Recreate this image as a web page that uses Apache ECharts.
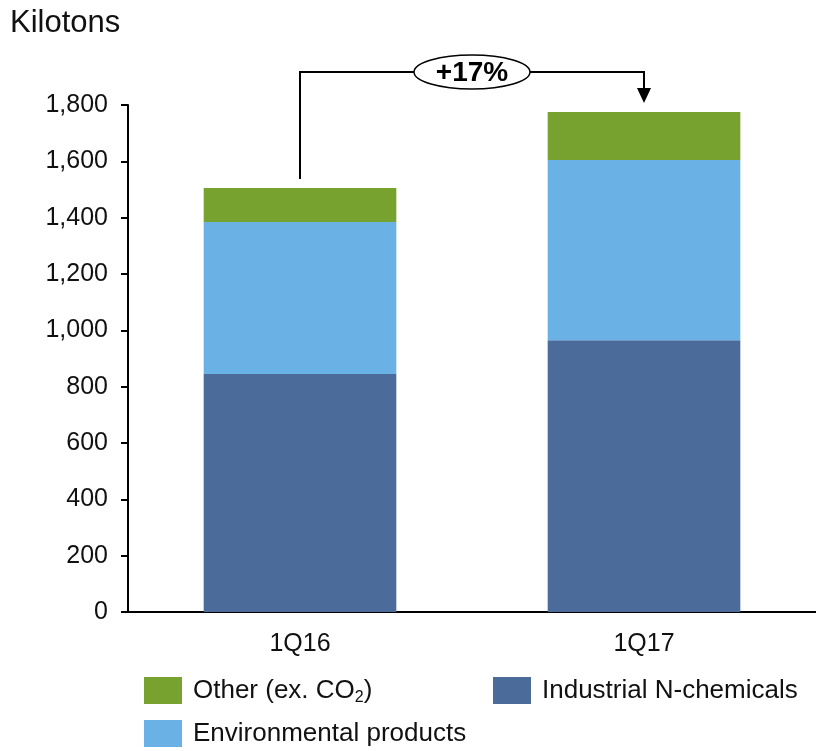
<!DOCTYPE html>
<html>
<head>
<meta charset="utf-8">
<title>Kilotons</title>
<script src="https://cdn.jsdelivr.net/npm/echarts@6/dist/echarts.min.js"></script>
<style>
  html, body { margin: 0; padding: 0; background: #fff; }
  #chart { width: 816px; height: 751px; }
</style>
</head>
<body>
<div id="chart"></div>
<script>
const categories = ['1Q16', '1Q17']
const industrial = [845, 965]
const environmental = [540, 640]
const other = [120, 170]
const yTicks = [0, 200, 400, 600, 800, 1000, 1200, 1400, 1600, 1800]
const growthLabel = '+17%'

const font = '"Liberation Sans", Arial, sans-serif'
const colors = {
  industrial: '#4b6b9b',
  environmental: '#6ab1e5',
  other: '#78a22f'
}

const chart = echarts.init(document.getElementById('chart'))

// one legend per entry so they sit like the original two-column key
function legendItem(name, left, top, formatter) {
  return {
    data: [name],
    left: left,
    top: top,
    padding: 0,
    itemWidth: 38,
    itemHeight: 27,
    icon: 'rect',
    selectedMode: false,
    formatter: formatter,
    textStyle: {
      fontFamily: font,
      fontSize: 26,
      color: '#111',
      padding: [0, 0, 0, 6],
      rich: {
        sub: { fontFamily: font, fontSize: 16, color: '#111', padding: [14, 0, 0, 0] }
      }
    }
  }
}

const option = {
  animation: false,
  title: {
    text: 'Kilotons',
    left: 10,
    top: 8,
    padding: 0,
    textStyle: { fontFamily: font, fontSize: 31, fontWeight: 'normal', color: '#111' }
  },
  grid: { left: 128, right: 0, top: 105, bottom: 139 },
  legend: [
    legendItem('Other', 144, 677, () => 'Other (ex. CO{sub|2})'),
    legendItem('Environmental products', 144, 720),
    legendItem('Industrial N-chemicals', 493, 677)
  ],
  xAxis: {
    type: 'category',
    data: categories,
    axisLine: { lineStyle: { color: '#000', width: 2 } },
    axisTick: { show: false },
    axisLabel: { fontFamily: font, fontSize: 25, color: '#111', margin: 20 }
  },
  yAxis: {
    type: 'value',
    min: yTicks[0],
    max: yTicks[yTicks.length - 1],
    interval: yTicks[1] - yTicks[0],
    axisLine: { show: true, lineStyle: { color: '#000', width: 2 } },
    axisTick: { show: true, inside: false, length: 7, lineStyle: { color: '#000', width: 2 } },
    axisLabel: {
      fontFamily: font,
      fontSize: 25,
      color: '#111',
      margin: 20,
      formatter: v => v.toLocaleString('en-US')
    },
    splitLine: { show: false }
  },
  series: [
    {
      name: 'Industrial N-chemicals',
      type: 'bar',
      stack: 'total',
      barWidth: '56%',
      data: industrial,
      itemStyle: { color: colors.industrial }
    },
    {
      name: 'Environmental products',
      type: 'bar',
      stack: 'total',
      data: environmental,
      itemStyle: { color: colors.environmental }
    },
    {
      name: 'Other',
      type: 'bar',
      stack: 'total',
      data: other,
      itemStyle: { color: colors.other }
    }
  ]
}

chart.setOption(option)

// growth bracket, placed from the bar tops
function drawBracket() {
  const totals = categories.map((c, i) => industrial[i] + environmental[i] + other[i])
  const p1 = chart.convertToPixel({ seriesIndex: 0 }, [0, totals[0]])
  const p2 = chart.convertToPixel({ seriesIndex: 0 }, [1, totals[1]])
  const yTop = Math.min(p1[1], p2[1]) - 40
  const gap = 9
  const arrowH = 15
  const midX = (p1[0] + p2[0]) / 2

  chart.setOption({
    graphic: [
      {
        type: 'polyline',
        shape: {
          points: [
            [p1[0], p1[1] - gap],
            [p1[0], yTop],
            [p2[0], yTop],
            [p2[0], p2[1] - gap - arrowH]
          ]
        },
        style: { stroke: '#000', lineWidth: 2, fill: null },
        z: 10
      },
      {
        type: 'polygon',
        shape: {
          points: [
            [p2[0] - 7, p2[1] - gap - arrowH],
            [p2[0] + 7, p2[1] - gap - arrowH],
            [p2[0], p2[1] - gap]
          ]
        },
        style: { fill: '#000' },
        z: 10
      },
      {
        type: 'ellipse',
        shape: { cx: midX, cy: yTop, rx: 58, ry: 17 },
        style: { fill: '#fff', stroke: '#000', lineWidth: 1.5 },
        z: 11
      },
      {
        type: 'text',
        x: midX,
        y: yTop + 1,
        style: {
          text: growthLabel,
          fontFamily: font,
          fontSize: 28,
          fontWeight: 'bold',
          fill: '#000',
          align: 'center',
          verticalAlign: 'middle'
        },
        z: 12
      }
    ]
  })
}

drawBracket()
</script>
</body>
</html>
